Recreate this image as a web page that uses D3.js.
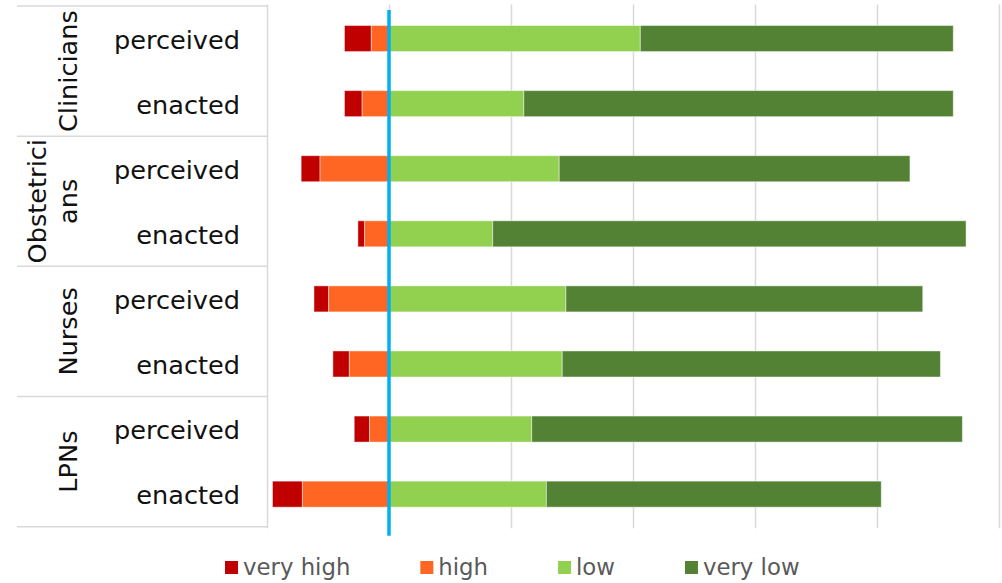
<!DOCTYPE html>
<html lang='en'>

<head>
   <meta charset='UTF-8'>
   <style>
      body {
         margin: 0;
         background: #fff;
      }

      svg {
         display: block;
         font-family: 'DejaVu Sans', sans-serif;
      }

      .grid line {
         stroke: #d9d9d9;
         stroke-width: 1.5;
      }

      .grid path {
         display: none;
      }
   </style>
   <script src="https://cdnjs.cloudflare.com/ajax/libs/d3/7.8.5/d3.min.js"></script>
   <title>Perceived vs enacted</title>
</head>

<body>
   <svg id='chart'></svg>

   <script>
      'use strict'

      // data, in percent
      const groups = ['Clinicians', 'Obstetricians', 'Nurses', 'LPNs']
      const groupLines = [['Clinicians'], ['Obstetrici', 'ans'], ['Nurses'], ['LPNs']]
      const roles = ['perceived', 'enacted']
      const veryHigh = [4.4, 2.9, 3.1, 1.1, 2.4, 2.7, 2.5, 4.9]
      const high = [2.9, 4.4, 11.3, 4.0, 9.9, 6.5, 3.2, 14.2]
      const low = [41.2, 22.1, 27.9, 17.0, 29.0, 28.4, 23.4, 25.8]
      const veryLow = [51.3, 70.4, 57.5, 77.6, 58.5, 62.0, 70.6, 54.9]
      const gridTicks = [-20, 0, 20, 40, 60, 80, 100]
      const series = ['very high', 'high', 'low', 'very low']
      const colors = ['#c00000', '#ff6624', '#92d050', '#548235']

      const width = 1002, height = 583
      const plotTop = 6, plotBottom = 526.7, plotLeft = 267, plotRight = 999

      const svg = d3.select('svg')
         .attr('width', width)
         .attr('height', height)

      const rows = []
      groups.forEach((g, gi) => roles.forEach((r, ri) => {
         const i = gi * roles.length + ri
         rows.push({
            key: g + '|' + r, group: g, role: r,
            vh: veryHigh[i], h: high[i], l: low[i], vl: veryLow[i]
         })
      }))

      const x = d3.scaleLinear([-20, 100], [plotLeft, plotRight])
      const y = d3.scaleBand(rows.map(d => d.key), [plotTop, plotBottom])
         .paddingInner(0.6)
         .paddingOuter(0.3)
      const yGroup = d3.scaleBand(groups, [plotTop, plotBottom])

      // vertical gridlines
      svg.append('g')
         .attr('class', 'grid')
         .attr('transform', `translate(0,${plotBottom + 1.5})`)
         .call(d3.axisBottom(x).tickValues(gridTicks).tickSize(-(plotBottom - plotTop + 3)).tickFormat(''))

      // category table lines
      const table = svg.append('g')
         .attr('stroke', '#d9d9d9')
         .attr('stroke-width', 1.5)

      table.selectAll('line')
         .data(groups.map(g => yGroup(g)).concat([plotBottom]))
         .join('line')
         .attr('x1', 17)
         .attr('x2', plotLeft)
         .attr('y1', d => d)
         .attr('y2', d => d)

      // stacked segments
      const segs = []
      rows.forEach(d => {
         segs.push({ row: d, s: 0, x0: -d.h - d.vh, x1: -d.h })
         segs.push({ row: d, s: 1, x0: -d.h, x1: 0 })
         segs.push({ row: d, s: 2, x0: 0, x1: d.l })
         segs.push({ row: d, s: 3, x0: d.l, x1: d.l + d.vl })
      })

      svg.append('g')
         .selectAll('rect')
         .data(segs)
         .join('rect')
         .attr('x', d => x(d.x0))
         .attr('width', d => x(d.x1) - x(d.x0))
         .attr('y', d => y(d.row.key))
         .attr('height', y.bandwidth())
         .attr('fill', d => colors[d.s])
         .attr('stroke', '#fff')
         .attr('stroke-opacity', 0.45)
         .attr('stroke-width', 1)

      // zero line
      svg.append('line')
         .attr('x1', x(0))
         .attr('x2', x(0))
         .attr('y1', plotTop + 4)
         .attr('y2', plotBottom + 9)
         .attr('stroke', '#00b0f0')
         .attr('stroke-width', 3.5)

      // row labels
      svg.append('g')
         .selectAll('text')
         .data(rows)
         .join('text')
         .attr('x', 240)
         .attr('y', d => y(d.key) + y.bandwidth() / 2 + 1)
         .attr('dy', '0.35em')
         .attr('text-anchor', 'end')
         .attr('font-size', 25.6)
         .attr('fill', '#111')
         .text(d => d.role)

      // group labels, rotated
      const gl = svg.append('g')
         .selectAll('g')
         .data(groups)
         .join('g')
         .attr('transform', d => `translate(68,${yGroup(d) + yGroup.bandwidth() / 2}) rotate(-90)`)

      gl.each(function (g, gi) {
         const lines = groupLines[gi]
         d3.select(this).selectAll('text')
            .data(lines)
            .join('text')
            .attr('x', 0)
            .attr('y', (d, i) => -(lines.length - 1 - i) * 31)
            .attr('dy', '0.35em')
            .attr('text-anchor', 'middle')
            .attr('font-size', 25.6)
            .attr('fill', '#111')
            .text(d => d)
      })

      // legend
      const legend = svg.append('g')
      let lx = 225
      series.forEach((s, i) => {
         legend.append('rect')
            .attr('x', lx)
            .attr('y', 561)
            .attr('width', 13)
            .attr('height', 13)
            .attr('fill', colors[i])
         const t = legend.append('text')
            .attr('x', lx + 18)
            .attr('y', 567)
            .attr('dy', '0.35em')
            .attr('font-size', 22.8)
            .attr('fill', '#595959')
            .text(s)
         lx += 18 + t.node().getComputedTextLength() + 70
      })
   </script>
</body>

</html>
